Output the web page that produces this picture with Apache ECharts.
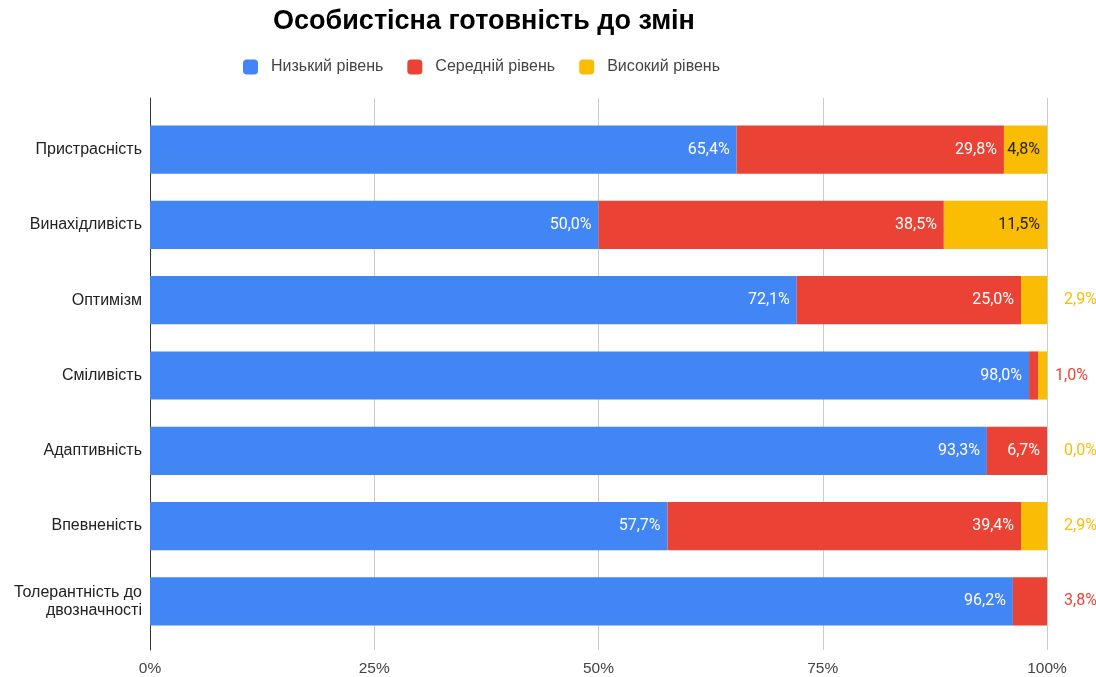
<!DOCTYPE html>
<html><head><meta charset="utf-8">
<script src="https://cdn.jsdelivr.net/npm/echarts@6/dist/echarts.min.js"></script>
<style>html,body{margin:0;padding:0;background:#fff}#c{width:1096px;height:677px}</style>
</head><body><div id="c"></div>
<script>
const categories = ['Пристрасність','Винахідливість','Оптимізм','Сміливість','Адаптивність','Впевненість','Толерантність до двозначності'];
const seriesNames = ['Низький рівень','Середній рівень','Високий рівень'];
const low = [65.4, 50.0, 72.1, 98.0, 93.3, 57.7, 96.2];
const mid = [29.8, 38.5, 25.0, 1.0, 6.7, 39.4, 3.8];
const high = [4.8, 11.5, 2.9, 1.0, 0.0, 2.9, 0.0];
const xTicks = [0, 25, 50, 75, 100];

const FONT = 'Liberation Sans, Arial, sans-serif';
const colors = ['#4285F4', '#EA4335', '#FBBC04'];
const insideColors = ['#ffffff', '#ffffff', '#222222'];
const fmt = v => v.toFixed(1).replace('.', ',') + '%';
const values = [low, mid, high];
const outsideUsed = categories.map(() => false);

// wrap long category names at the last space
const wrap = s => s.length > 20 ? s.replace(/ (\S+)$/, '\n$1') : s;

const series = values.map((vals, s) => ({
  name: seriesNames[s],
  type: 'bar',
  stack: 'total',
  xAxisIndex: 1, yAxisIndex: 1,
  barCategoryGap: '36%',
  itemStyle: { color: colors[s] },
  label: {
    show: true, position: 'insideRight', distance: 7,
    color: insideColors[s], fontFamily: 'Roboto', fontSize: 16,
    formatter: p => fmt(p.value)
  },
  data: vals.map((v, i) => {
    if (v < 4.5) {
      const show = !outsideUsed[i];
      outsideUsed[i] = true;
      return { value: v, label: { show, position: 'right', distance: 17, color: colors[s] } };
    }
    return { value: v };
  })
}));

const chart = echarts.init(document.getElementById('c'), null, { renderer: 'canvas' });
chart.setOption({
  animation: false,
  backgroundColor: '#ffffff',
  textStyle: { fontFamily: FONT },
  title: {
    text: 'Особистісна готовність до змін',
    left: 479, top: 3, textAlign: 'center',
    textStyle: { fontSize: 27, fontWeight: 'bold', color: '#000', fontFamily: FONT }
  },
  legend: {
    data: seriesNames, top: 54, left: 238, itemWidth: 15, itemHeight: 15, itemGap: 24,
    icon: 'roundRect',
    textStyle: { fontSize: 16, color: '#444', fontFamily: FONT, padding: [0, 0, 0, 8] }
  },
  grid: [
    { left: 150, right: 49, top: 98, bottom: 27 },
    { left: 150, right: 49, top: 112, bottom: 38 }
  ],
  xAxis: [
    { gridIndex: 0, type: 'value', min: xTicks[0], max: xTicks[xTicks.length - 1], interval: 25,
      axisLine: { show: false }, axisTick: { show: false },
      splitLine: { show: true, lineStyle: { color: '#cccccc', width: 1 } },
      axisLabel: { fontSize: 15.5, color: '#444', fontFamily: FONT, margin: 11, formatter: v => v + '%' } },
    { gridIndex: 1, type: 'value', min: 0, max: 100, show: false, splitLine: { show: false } }
  ],
  yAxis: [
    { gridIndex: 0, type: 'value', min: 0, max: 1, axisLine: { show: true, onZero: false, lineStyle: { color: '#333', width: 1 } },
      axisTick: { show: false }, axisLabel: { show: false }, splitLine: { show: false } },
    { gridIndex: 1, type: 'category', data: categories, inverse: true,
      axisLine: { show: false }, axisTick: { show: false },
      axisLabel: { fontSize: 16, color: '#222', fontFamily: FONT, margin: 8, lineHeight: 18, align: 'right', padding: [5, 0, 0, 0], formatter: wrap } }
  ],
  series
});
</script></body></html>
